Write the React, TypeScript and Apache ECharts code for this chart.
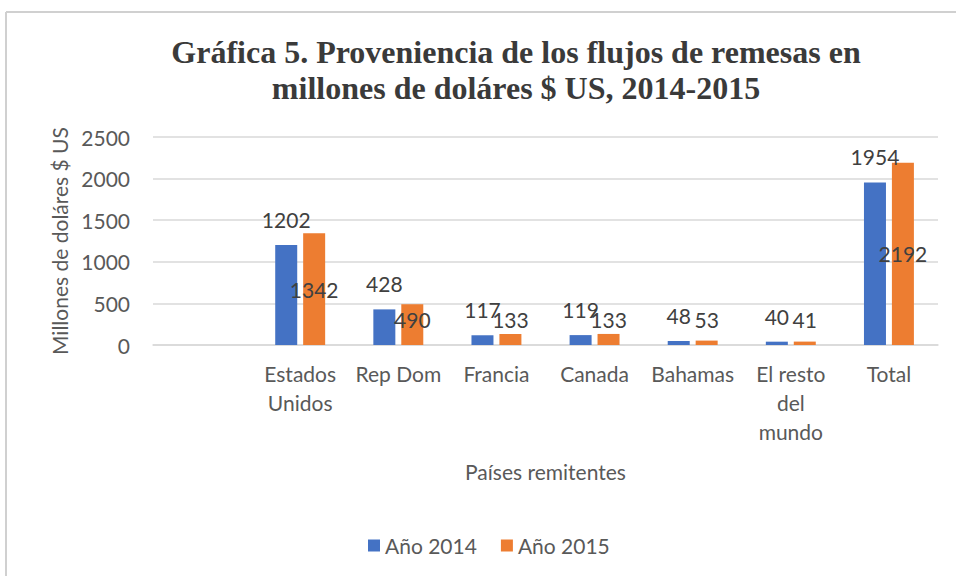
import React, { useEffect, useRef } from "react";
import * as echarts from "echarts";

const categories = ["", "Estados\nUnidos", "Rep Dom", "Francia", "Canada", "Bahamas", "El resto\ndel\nmundo", "Total"];
const values2014 = [null, 1202, 428, 117, 119, 48, 40, 1954];
const values2015 = [null, 1342, 490, 133, 133, 53, 41, 2192];
const yTicks = { min: 0, max: 2500, interval: 500 };
const seriesNames = ["Año 2014", "Año 2015"];

const FONT = "Lato";
const TXT = "#595959";

export default function App() {
  const ref = useRef<HTMLDivElement>(null);
  useEffect(() => {
    if (!ref.current) return;
    const chart = echarts.init(ref.current, null, { renderer: "svg" });
    const data2015 = values2015.map((v) =>
      v === null
        ? null
        : {
            value: v,
            label:
              v >= 1000
                ? { position: "inside" }
                : { position: "insideBottom", distance: 15 },
          }
    );
    chart.setOption({
      animation: false,
      backgroundColor: "#ffffff",
      title: {
        text: "Gráfica 5. Proveniencia de los flujos de remesas en\nmillones de doláres $ US, 2014-2015",
        left: 511,
        top: 29,
        textAlign: "center",
        textStyle: {
          fontFamily: "Liberation Serif",
          fontWeight: "bold",
          fontSize: 32,
          lineHeight: 36,
          color: "#3a3a3a",
        },
      },
      legend: {
        data: seriesNames,
        left: 363,
        top: 530,
        itemWidth: 12,
        itemHeight: 12,
        itemGap: 24,
        icon: "rect",
        textStyle: { fontFamily: FONT, fontSize: 21, color: TXT },
      },
      grid: { left: 153, right: 18, top: 137, bottom: 231, containLabel: false },
      xAxis: {
        type: "category",
        data: categories,
        name: "Países remitentes",
        nameLocation: "middle",
        nameGap: 116,
        nameTextStyle: { fontFamily: FONT, fontSize: 21, color: TXT },
        axisLine: { show: true, lineStyle: { color: "#d9d9d9", width: 1.5 } },
        axisTick: { show: false },
        axisLabel: {
          interval: 0,
          margin: 14,
          fontFamily: FONT,
          fontSize: 21,
          lineHeight: 29,
          color: TXT,
          verticalAlign: "top",
        },
      },
      yAxis: {
        type: "value",
        min: yTicks.min,
        max: yTicks.max,
        interval: yTicks.interval,
        name: "Millones de doláres $ US",
        nameLocation: "middle",
        nameGap: 83,
        nameTextStyle: { fontFamily: FONT, fontSize: 21, color: TXT },
        axisLine: { show: false },
        axisTick: { show: false },
        axisLabel: {
          margin: 23,
          fontFamily: FONT,
          fontSize: 21,
          color: TXT,
          formatter: (v: number) => String(v),
        },
        splitLine: { lineStyle: { color: "#d9d9d9", width: 1.5 } },
      },
      series: [
        {
          name: seriesNames[0],
          type: "bar",
          data: values2014,
          barWidth: 22,
          barGap: "27%",
          itemStyle: { color: "#4472C4" },
          label: {
            show: true,
            position: "top",
            distance: 15,
            fontFamily: FONT,
            fontSize: 21,
            color: "#404040",
          },
        },
        {
          name: seriesNames[1],
          type: "bar",
          data: data2015,
          barWidth: 22,
          barGap: "27%",
          itemStyle: { color: "#ED7D31" },
          label: {
            show: true,
            fontFamily: FONT,
            fontSize: 21,
            color: "#404040",
          },
        },
      ],
      graphic: [
        {
          type: "line",
          shape: { x1: 6, y1: 12, x2: 956, y2: 12 },
          style: { stroke: "#d0d0d0", lineWidth: 2 },
        },
        {
          type: "line",
          shape: { x1: 6, y1: 12, x2: 6, y2: 576 },
          style: { stroke: "#d0d0d0", lineWidth: 2 },
        },
      ],
    });
    return () => chart.dispose();
  }, []);
  return (
    <div
      ref={ref}
      style={{ position: "fixed", left: 0, top: 0, width: 956, height: 576 }}
    />
  );
}
